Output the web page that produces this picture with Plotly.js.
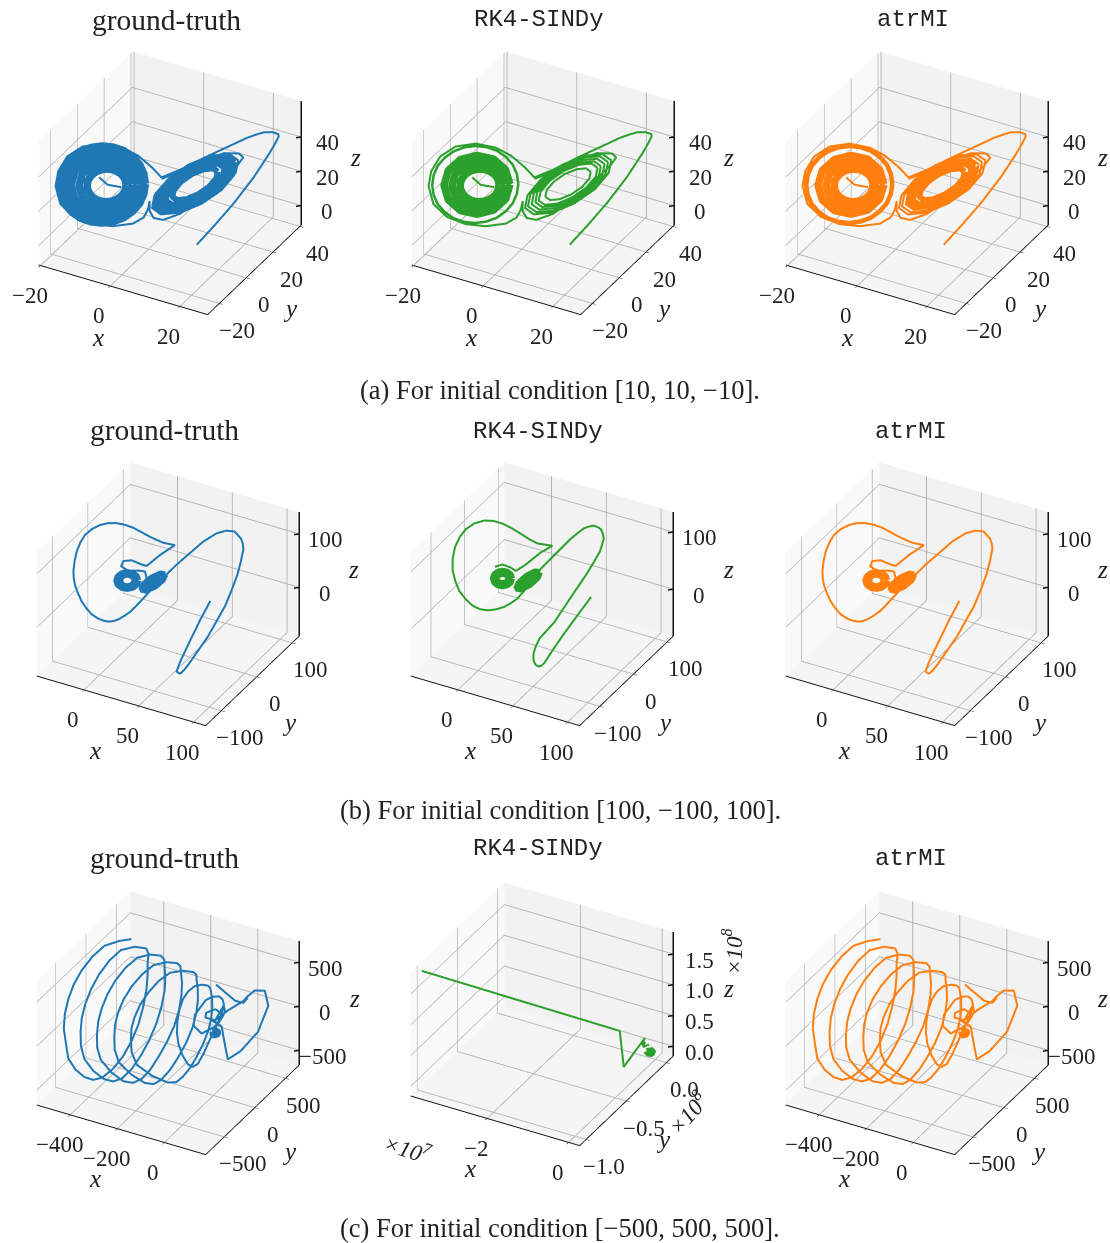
<!DOCTYPE html><html><head><meta charset="utf-8"><script src="https://cdn.plot.ly/plotly-3.0.1.min.js"></script><style>html,body{margin:0;background:#fff}</style></head><body><div id="g" style="width:1110px;height:1243px"></div><script>
const W=1110,H=1243;
const blue='#1f77b4',green='#2ca02c',orange='#ff7f0e';
// ---- row (a): depth is not readable from one projection, so y follows x on the lobes
const legX=[9.97,13.46,17.64,21.83,24.97,25.9,26.7,26.95,26.85,25.66,23.9,22.3,20.4,16.25,11.4,6.5,2.65,.56,-2.23,-5.37,-9.55,-13.74,-16.9,-18.76,-19.3,-18.3,-15.5,-11.65,-7.46,-3.28,-1.05,-.14,.2,.2,1.05,3,6.5,10.67,14.85,18.34,19.6,18.7,15.55,10.67,5.8,2.65,null,-10.25,-8.5,-5.7];
const legZ=[-10.3,-.2,12.65,27.4,40.4,44.7,48.8,50.4,51.6,52.9,53.1,52,50.4,45.6,40,33.9,30,36.5,43.5,48.6,51.6,50.5,45.2,36.8,28.3,17.7,9.8,5,3.1,4,7.2,11.8,16.6,10.8,6.55,5.2,8.2,15.4,25.4,34.5,39.1,41.5,42.2,37.8,32.1,29.2,null,32,27.4,25.6];
const L1x=[-4.68,-4.82,-5.2,-5.86,-6.7,-7.67,-8.72,-9.77,-10.74,-11.58,-12.2,-12.62,-12.76,-12.62,-12.2,-11.58,-10.74,-9.77,-8.72,-7.67,-6.7,-5.86,-5.2,-4.82],L1z=[26.6,29.1,31.5,33.5,35.1,36.2,36.6,36.4,35.6,34.15,32.25,30,27.55,25.07,22.73,20.7,19.04,18,17.57,17.77,18.58,20,21.93,24.2];
const L2x=[-3.56,-4.27,-6.28,-9,-11.72,-13.73,-14.44,-13.73,-11.72,-9,-6.28,-4.27],L2z=[26.7,33.45,38.6,40.66,39.24,34.54,27.95,21.2,16.04,14,15.42,20.12];
const L3x=[-2.44,-3.33,-5.85,-9.27,-12.69,-15.21,-16.1,-15.21,-12.69,-9.27,-5.85,-3.33],L3z=[26.76,35.43,42.06,44.68,42.84,36.78,28.32,19.64,13.02,10.4,12.24,18.29];
const L4x=[-1.39,-2.44,-5.43,-9.48,-13.53,-16.52,-17.57,-16.52,-13.53,-9.48,-5.43,-2.44],L4z=[26.83,37.14,45.02,48.13,45.94,38.74,28.67,18.36,10.48,7.37,9.56,16.76];
const L5x=[-.69,-1,-1.85,-3.3,-5.16,-7.3,-9.62,-11.93,-14.08,-15.93,-17.39,-18.25,-18.55,-18.25,-17.39,-15.93,-14.08,-11.93,-9.62,-7.3,-5.16,-3.3,-1.85,-1],L5z=[26.75,32.6,38.12,42.95,46.82,49.2,50.25,49.73,47.83,44.4,39.89,34.57,28.78,22.93,17.41,12.6,8.71,6.33,5.29,5.8,7.7,11.15,15.64,21];
const R50x=[14.3,14.05,12.55,10.3,7.9,5.9,4.9,5.2,6.7,8.9,11.4,13.35],R50z=[31.6,27.7,23.05,19,16.55,16.3,18.4,22.3,27,31,33.45,33.7];
const R65x=[15.7,15.4,13.4,10.5,7.35,4.8,3.5,3.9,5.8,8.7,11.9,14.5],R65z=[33.6,28.6,22.5,17.2,14,13.7,16.4,21.4,27.5,32.8,36,36.3];
const R72x=[16.4,16,13.8,10.6,7.1,4.25,2.85,3.2,5.4,8.6,12.1,15],R72z=[34.5,28.9,22.2,16.4,12.8,12.5,15.5,21.1,27.8,33.6,37.2,37.5];
const R80x=[17.2,16.7,14.3,10.7,6.8,3.65,2.1,2.5,4.9,8.5,12.4,15.6],R80z=[35.6,29.4,21.9,15.4,11.5,11.1,14.4,20.6,28.1,34.6,38.5,38.9];
const R88x=[17.9,17.4,14.8,10.8,6.55,3.05,1.3,1.8,4.5,8.4,12.7,16.2],R88z=[36.6,29.8,21.6,14.5,10.1,9.7,13.4,20.2,28.4,35.5,39.9,40.3];
const R95x=[18.6,18,15.2,10.9,6.3,2.5,.7,1.2,4,8.3,13,16.7],R95z=[37.5,30.2,21.3,13.6,8.9,8.5,12.5,19.8,28.7,36.4,41.1,41.5];
// ---- row (b)
const b1x=[101,95,89,84.6,83.2,82.4,81.6,81.5,81.4,82.7,82.3,83,83.6,83.3,82.7,81.2,79,73,68.6,56.2,47,28.7,12.6,1.1,-2.9,-6.9,-10.9,-14.9,-18.3,-21.8,-25.8,-29.8,-33.4,-36.7,-39.2,-41.3,-42.2,-42.4,-41.6,-40.1,-37.6,-34.4,-29.6,-24.1,-18.4,-12.6,-6.8,-1.1,4.6,10.3,15,19.5,27.5,17.2,8,3.9,-2.3,-8,-9.6,-4.6,2.3,6.9,8,4.6];
const b1yHead=[-100,-110,-125,-135,-140,-133,-125,-113,-100,-50,0,15,30,41,50,53,55,55,45];
const b1y=b1yHead.concat(b1x.slice(b1yHead.length));
const b1z=[108,75.2,35.3,5.7,-8.9,-16.5,-23.6,-24,-21.5,-1.1,24.5,43,63.8,81.5,98.9,106.5,112.9,122.9,128,108.5,93.3,50.9,8.5,-24.8,-35.3,-43,-49.4,-53.3,-54,-52.1,-47.5,-40,-29,-15.8,-.8,14.5,27.8,41.8,59.8,78.2,94.5,108.5,119.3,126.7,130,129.7,126.4,120.6,112.2,103.6,97.5,92.1,87.3,69.1,49.1,52.7,60,58.8,49.1,40.6,40.6,38.8,26.7,11.5];
const b1Ax=[-.3,-.95,-2.8,-5.3,-7.8,-9.65,-10.3,-9.65,-7.8,-5.3,-2.8,-.95],b1Az=[22.4,27.85,31.9,33.3,31.9,27.85,22.4,16.95,12.9,11.5,12.9,16.95];
const b1Bx=[2.3,1.3,-1.5,-5.3,-9.1,-11.9,-12.9,-11.9,-9.1,-5.3,-1.5,1.3],b1Bz=[22.4,30.3,36.1,38.2,36.1,30.3,22.4,14.5,8.7,6.6,8.7,14.5];
const b1Cx=[17.55,16.6,13.3,9.6,7.65,8.6,11.9,15.6],b1Cz=[27.2,21.1,13.7,9.3,10.4,16.5,23.9,28.3];
const b1Dx=[20.85,19.3,13.75,7.6,4.35,5.9,11.45,17.6],b1Dz=[32.7,22.6,10.3,2.9,4.9,15,27.3,34.7];
const b2x=[55.4,45.6,36.4,43,46.2,44.5,42.3,40.2,38.8,38.4,38.6,40.2,42.8,29.5,41,52.6,57.2,61.4,63,64.2,63.5,62.3,60,57.2,54,50.3,46,41,29.4,20.2,10.9,3.9,-.7,-5.3,-11.1,-16.9,-22.1,-27.3,-32,-36.6,-39.4,-41.3,-41.2,-39.6,-36.4,-32,-26.2,-19.2,-12.8,-6.5,0,6.3,12,17.8,28.3,20.2,8.6,2.8,-.7,-6.5,-11.8];
const b2yHead=[55.4,45.6,36.4,-17,-53.8,-56,-57.7,-60,-61,-61,-61,-59,-57];
const b2y=b2yHead.concat(b2x.slice(b2yHead.length));
const b2z=[-9.5,-42.5,-74,-67.4,-68.7,-73,-75,-72,-66,-59.5,-51.8,-39,-26,-54.4,-11,32,51,69.5,81.5,92.5,101,108.4,112.5,115,113.5,110.3,102,91.7,62.7,39.5,7.8,-12.4,-20.6,-27,-31.4,-33,-31,-25,-14,.5,18,37.4,57.8,77.5,94.8,109,118.8,124,123.3,118.6,110.4,100.8,91.6,84,79.8,68,44.9,36,41.7,47.2,43];
const b2Ax=[-2.3,-2.85,-4.4,-6.5,-8.6,-10.15,-10.7,-10.15,-8.6,-6.5,-4.4,-2.85],b2Az=[22.6,26.6,29.6,30.6,29.6,26.6,22.6,18.6,15.6,14.6,15.6,18.6];
const b2Bx=[.2,-.7,-3.15,-6.5,-9.85,-12.3,-13.2,-12.3,-9.85,-6.5,-3.15,-.7],b2Bz=[22.6,29.45,34.5,36.3,34.5,29.45,22.6,15.75,10.7,8.9,10.7,15.75];
const b2Cx=[16.4,15.4,12.1,8.4,6.4,7.4,10.7,14.4],b2Cz=[27.9,22,14.5,9.8,10.7,16.6,24.1,28.8];
const b2Dx=[19.7,18.1,12.6,6.4,3.1,4.7,10.2,16.4],b2Dz=[33.6,23.8,11.3,3.5,5,14.8,27.3,35.1];
// ---- row (c)
const c1x=[-492,-514,-536,-539,-538,-539,-539,-539,-538.5,-539,-539,-497.5,-444.5,-393,-352.9,-343,-346,-350.5,-357.8,-364,-372.9,-388,-404.8,-417,-431.6,-454,-476.7,-494,-507.7,-516.5,-519,-513.6,-499.8,-478,-444.5,-390.5,-336,-300,-276.8,-266,-264.5,-268.5,-276.2,-283.4,-293.7,-311,-329.9,-343,-359,-385.5,-412,-429,-440.5,-448,-449,-444,-430,-406.5,-369.8,-307.5,-245,-206,-183,-177,-180.4,-185,-192,-201,-213.8,-231,-250,-264.5,-281.8,-311,-339.7,-358,-370.8,-379,-379.5,-371,-353.7,-329,-290.7,-223,-156.8,-120,-99.5,-91,-91.8,-97,-108,-123,-141.6,-161.5,-180.9,-194,-209.6,-242,-275,-298,-313.5,-322,-322,-314.4,-296.4,-267.6,-221.4,-137,-56.8,-23,-9,-1,-.3,-4.4,-13.5,-27,-44,-64,-83.3,-94.6,-107.3,-133,-158,-172.5,-177,-167,-148.3,-125.7,-96.8,-56,-17.8,4.75,16.7,16.4,10.9,7.3,3.1,-.6,-7.8,-24,-43.6,-66,-84.5,-94.4,-76.2,-29,9.5,19,2.1,-5.4,-49.8,-56.8,-27.7,22,16,-19.4,34.9,101.2,152.3,168,163.4,163,166.4,161.9,123.8,100.7,37.9,-5.4,null,-72.4,-13.2,50.9,95.7,106.4];
const c1y=[550,437.5,280,97,-80,-208,-300,-356,-375,-336,-300,-341.6,-400,-456,-460,-327.5,-150,7.5,150,255,340,417,480,544,560,460,320,196,80,-15.6,-100,-177,-250,-328,-400,-464,-500,-487.5,-430,-314,-170,-16,130,240,330,409,470,515,520,449,340,216,90,-11,-100,-176,-250,-337.5,-420,-489,-530,-524,-470,-350,-200,-46,100,211,300,374,430,478,490,429,330,212,90,-10,-100,-181,-260,-349,-430,-489,-520,-516,-470,-360,-220,-73,70,190,290,365,420,466,480,432,350,249,140,42,-50,-130,-210,-307,-400,-481,-530,-520,-470,-387,-280,-154,-30,67.5,150,224,280,309,320,320,300,251,180,84,-20,-113,-200,-288,-350,-358,-320,-221,-100,7.5,100,159,200,240,260,242.5,200,60,-30,-80,-10,120,160,50,60,100,140,80,20,50,0,-200,-350,-200,100,270,200,50,80,100,100,50,null,320,250,160,120,150];
const c1z=[356,393,426,424,390,312,203,73,-82,-290,-471,-537,-541.6,-496,-436,-420,-398,-333,-240,-107,27.7,126,202,251,292,359,397,345,252,143,28,-75,-170,-261,-336,-385,-412,-420,-406,-368,-311,-240,-152.5,-41,69,154,221,262.5,292,332,348,305,231,137,35,-59,-144,-215,-273,-320,-346,-338.5,-312,-279,-233,-170.5,-93,6.5,106,186,246,273,288,317,327,287,220,133.5,42,-35,-106,-173,-231,-278,-303,-290,-255,-211,-157,-98,-34,35,103,169,222,241,249,272,278,232,162,84,4,-64,-125,-185,-227,-230,-213,-189,-154,-108,-52,15,83,143,194,231,257,276,283,273,250,212,165,116,66,18,-26,-67,-95,-102,-84,-28,41,103,159,200.6,230,246.5,250,240,217,135,82,66,128,216,248,148,138,161,197,209,151,135,144,116.5,93.5,102,117,300,520,618,500,416,265.5,148,null,322,322,341,379,424];
const c1tx=[3.2,23,33.3,13.5,3.2],c1ty=[-30,-20,-50,-60,-30],c1tz=[80,102,87,61,80];
const c2x=[-3.8e7,-.4e7,-.1e7,-.05e7,-.05e7,-.05e7,-.05e7,-.05e7],c2y=[-.98e8,-.24e8,-.343e8,-.106e8,-.14e8,-.106e8,-.127e8,-.054e8],c2z=[1.766e8,.525e8,.128e8,.31e8,.238e8,.246e8,.19e8,.14e8];
const c2bx=[-.05e7,-.05e7,-.05e7,-.05e7,-.05e7],c2by=[-.084e8,0,-.02e8,-.072e8,-.084e8],c2bz=[.07e8,-.018e8,-.06e8,.019e8,.07e8];

const aTicks={xt:[-20,0,20],yt:[-20,0,20,40],zt:[0,20,40],xr:[-20.5,28],yr:[-28.7,41],zr:[-11.4,61]};
const bTicks={xt:[0,50,100],yt:[-100,0,100],zt:[0,100],xr:[-43,111],yr:[-144,120],zr:[-91,141]};
const cTicks={xt:[-400,-200,0],yt:[-500,0,500],zt:[-500,0,500],xr:[-542,176],yr:[-803,725],zr:[-668,743]};
const panels=[
 {id:'scene',cx:170,cy:183,...aTicks,tx:[98,337],ty:[290,309],tz:[355,158]},
 {id:'scene2',cx:543,cy:183,...aTicks,tx:[471,337],ty:[663,309],tz:[728,158]},
 {id:'scene3',cx:917,cy:183,...aTicks,tx:[847,337],ty:[1039,309],tz:[1102,158]},
 {id:'scene4',cx:168,cy:594,...bTicks,tx:[95,750],ty:[289,722],tz:[353,569]},
 {id:'scene5',cx:542,cy:594,...bTicks,yr:[-160,118],zr:[-82,135],tx:[470,750],ty:[664,722],tz:[728,569]},
 {id:'scene6',cx:917,cy:594,...bTicks,tx:[844,750],ty:[1039,722],tz:[1102,569]},
 {id:'scene7',cx:168,cy:1023,...cTicks,tx:[95,1178],ty:[289,1151],tz:[354,998]},
 {id:'scene8',cx:542,cy:1014,xt:[-2e7,0],yt:[-1e8,-.5e8,0],zt:[0,.5e8,1e8,1.5e8],xl:['\u22122','0'],yl:['\u22121.0','\u22120.5','0.0'],zl:['0.0','0.5','1.0','1.5'],xr:[-3.87e7,.27e7],yr:[-1.08e8,.085e8],zr:[-.16e8,1.86e8],tx:[470,1168],ty:[663,1139],tz:[728,988]},
 {id:'scene9',cx:917,cy:1023,...cTicks,tx:[844,1178],ty:[1038,1151],tz:[1102,998]}
];
const SW=370,SH=366,d=2.396,serif='Liberation Serif';
const layout={width:W,height:H,margin:{l:0,r:0,t:0,b:0},paper_bgcolor:'#fff',showlegend:false,annotations:[]};
const data=[];
function line(i,x,y,z,color,width){data.push({type:'scatter3d',mode:'lines',scene:panels[i].id,x,y,z,connectgaps:false,line:{color,width},hoverinfo:'skip'});}
function loop(i,x,z,color,width){line(i,x.concat(x[0]),x.concat(x[0]),z.concat(z[0]),color,width);}
const tf={family:serif,size:23,color:'#222'};
function ax(r,t,bg,isZ){return {range:r,tickvals:t,showticklabels:false,showbackground:true,backgroundcolor:bg,gridcolor:'#b4b4b4',gridwidth:2,zeroline:false,showline:!isZ,linecolor:'#111',linewidth:2,ticks:isZ?'':'outside',ticklen:4,tickcolor:'#111',title:{text:''},showspikes:false};}
const fmt=v=>String(v).replace('-','\u2212');
panels.forEach((p,i)=>{
 const sa=[];
 const xHi=p.xr[1]-(p.xr[1]-p.xr[0])*1e-4,yLo=p.yr[0]+(p.yr[1]-p.yr[0])*1e-4,yHi=p.yr[1]-(p.yr[1]-p.yr[0])*1e-4,zLo=p.zr[0]+(p.zr[1]-p.zr[0])*1e-4;
 (p.xt).forEach((t,k)=>sa.push({x:t,y:yLo,z:zLo,text:p.xl?p.xl[k]:fmt(t),showarrow:false,xshift:-11,yshift:-30,font:tf}));
 (p.yt).forEach((t,k)=>sa.push({x:xHi,y:t,z:zLo,text:p.yl?p.yl[k]:fmt(t),showarrow:false,xshift:18,yshift:-27,font:tf}));
 (p.zt).forEach((t,k)=>{const s=p.zl?p.zl[k]:fmt(t);sa.push({x:xHi,y:yHi,z:t,text:s,showarrow:false,xshift:s[0]=='\u2212'?23:26,yshift:-6,font:tf});});
 const hw=Math.min(SW/2,p.cx,W-p.cx);
 layout[p.id]={domain:{x:[(p.cx-hw)/W,(p.cx+hw)/W],y:[Math.max(0,1-(p.cy+SH/2)/H),Math.min(1,1-(p.cy-SH/2)/H)]},aspectmode:'manual',aspectratio:{x:1.055,y:1.055,z:.8},
  camera:{eye:{x:d*.411,y:-d*.742,z:d*.53},center:{x:0,y:0,z:0},up:{x:0,y:0,z:1},projection:{type:'orthographic'}},
  xaxis:ax(p.xr,p.xt,'#f9f9f9'),yaxis:ax(p.yr,p.yt,'#f2f2f2'),zaxis:ax(p.zr,p.zt,'#f5f5f5',true),annotations:sa};
 // z spine and its ticks on the right-hand edge
 const sx=[p.xr[1],p.xr[1]],sy=[p.yr[1],p.yr[1]],sz=[p.zr[0],p.zr[1]];
 const dx=(p.xr[1]-p.xr[0])*.02,dy=(p.yr[1]-p.yr[0])*.02;
 p.zt.forEach(t=>{sx.push(null,p.xr[1],p.xr[1]-dx);sy.push(null,p.yr[1],p.yr[1]-dy);sz.push(null,t,t);});
 line(i,sx,sy,sz,'#111',3);
 [['x',p.tx],['y',p.ty],['z',p.tz]].forEach(([s,q])=>layout.annotations.push({xref:'paper',yref:'paper',x:q[0]/W,y:1-q[1]/H,text:'<i>'+s+'</i>',showarrow:false,xanchor:'center',yanchor:'middle',font:{family:serif,size:25,color:'#222'}}));
});
const T=4,K=15,M=12;
// a1
line(0,legX,legX,legZ,blue,T);
[[L1x,L1z],[L2x,L2z],[L3x,L3z],[L4x,L4z],[L5x,L5z]].forEach(l=>loop(0,l[0],l[1],blue,K));
[[R50x,R50z],[R65x,R65z],[R72x,R72z],[R80x,R80z],[R88x,R88z]].forEach(l=>loop(0,l[0],l[1],blue,M));
loop(0,R95x,R95z,blue,T);
// a2
line(1,legX,legX,legZ,green,T);
[[L1x,L1z],[L2x,L2z],[L3x,L3z]].forEach(l=>loop(1,l[0],l[1],green,K));
loop(1,L5x,L5z,green,T+1);
[[R50x,R50z],[R65x,R65z],[R72x,R72z],[R80x,R80z],[R88x,R88z],[R95x,R95z]].forEach(l=>loop(1,l[0],l[1],green,T));
// a3
line(2,legX,legX,legZ,orange,T);
[[L1x,L1z],[L2x,L2z],[L3x,L3z]].forEach(l=>loop(2,l[0],l[1],orange,K));
loop(2,L5x,L5z,orange,9);
[[R50x,R50z],[R65x,R65z],[R72x,R72z]].forEach(l=>loop(2,l[0],l[1],orange,M));
[[R80x,R80z],[R88x,R88z],[R95x,R95z]].forEach(l=>loop(2,l[0],l[1],orange,T));
// b
[[3,blue],[5,orange]].forEach(([i,c])=>{line(i,b1x,b1y,b1z,c,T);[[b1Ax,b1Az],[b1Bx,b1Bz],[b1Cx,b1Cz],[b1Dx,b1Dz]].forEach(l=>loop(i,l[0],l[1],c,M));});
line(4,b2x,b2y,b2z,green,T);[[b2Ax,b2Az],[b2Bx,b2Bz],[b2Cx,b2Cz],[b2Dx,b2Dz]].forEach(l=>loop(4,l[0],l[1],green,M));
// c
[[6,blue],[8,orange]].forEach(([i,c])=>{line(i,c1x,c1y,c1z,c,T);line(i,c1tx,c1ty,c1tz,c,M);});
line(7,c2x,c2y,c2z,green,T);line(7,c2bx,c2by,c2bz,green,M);
// titles and captions
const tt=(x,y,text,fam,size)=>layout.annotations.push({xref:'paper',yref:'paper',x:x/W,y:1-y/H,text,showarrow:false,xanchor:'center',yanchor:'middle',font:{family:fam,size,color:'#222'}});
const mono='Liberation Mono';
[[166,20],[164,430],[164,858]].forEach(q=>tt(q[0],q[1],'ground-truth',serif,29.5));
[[539,19],[538,431],[538,849]].forEach(q=>tt(q[0],q[1],'RK4-SINDy',mono,24));
[[913,19],[911,431],[911,858]].forEach(q=>tt(q[0],q[1],'atrMI',mono,24));
tt(560,390,'(a) For initial condition [10, 10, \u221210].',serif,26.5);
tt(560,810,'(b) For initial condition [100, \u2212100, 100].',serif,26.5);
tt(560,1228,'(c) For initial condition [\u2212500, 500, 500].',serif,26.5);
const off=(x,y,a,text)=>layout.annotations.push({xref:'paper',yref:'paper',x:x/W,y:1-y/H,text,textangle:a,showarrow:false,xanchor:'center',yanchor:'middle',font:{family:serif,size:23,color:'#222'}});
off(408,1148,18,'<i>\u00d710<sup>7</sup></i>');off(687,1113,-48,'<i>\u00d710<sup>8</sup></i>');off(732,952,-90,'<i>\u00d710<sup>8</sup></i>');
Plotly.newPlot('g',data,layout,{displayModeBar:false});
</script></body></html>
